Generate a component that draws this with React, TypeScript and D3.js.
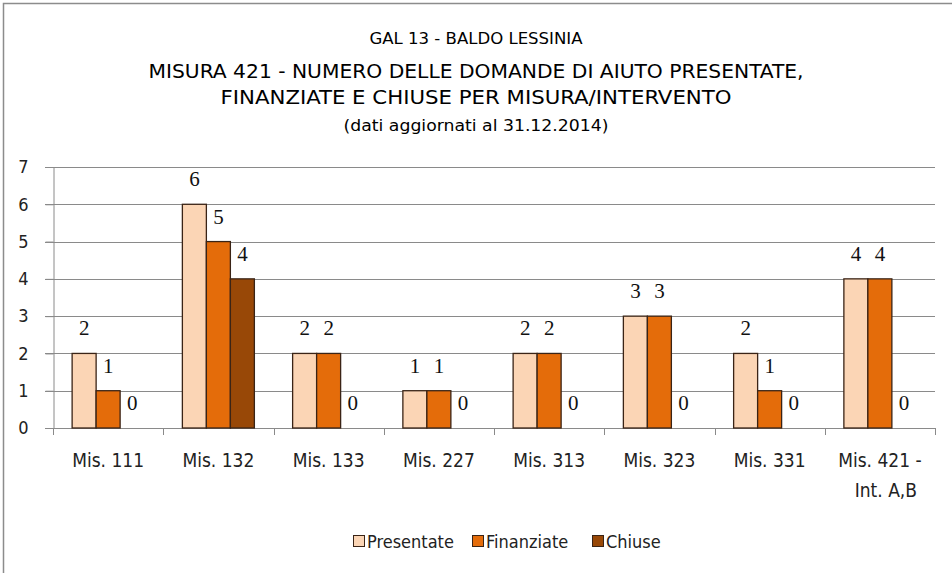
import React, { useEffect, useRef } from 'react';
import * as d3 from 'd3';

const CATEGORIES = ['Mis. 111', 'Mis. 132', 'Mis. 133', 'Mis. 227', 'Mis. 313', 'Mis. 323', 'Mis. 331', 'Mis. 421 -\nInt. A,B'];
const SERIES = ['Presentate', 'Finanziate', 'Chiuse'];
const PRESENTATE = [2, 6, 2, 1, 2, 3, 2, 4];
const FINANZIATE = [1, 5, 2, 1, 2, 3, 1, 4];
const CHIUSE = [0, 4, 0, 0, 0, 0, 0, 0];
const Y_TICKS = [0, 1, 2, 3, 4, 5, 6, 7];
const COLORS = ['#FBD5B5', '#E46C0A', '#984807'];

const TITLE_LINES = [
  'GAL 13 - BALDO LESSINIA',
  'MISURA 421  -  NUMERO DELLE DOMANDE DI AIUTO PRESENTATE,',
  'FINANZIATE E CHIUSE PER MISURA/INTERVENTO',
  '(dati aggiornati al 31.12.2014)',
];

const SANS = '"Liberation Sans Narrow", "DejaVu Sans Condensed", "Open Sans", sans-serif';
const SERIF = '"Liberation Serif", "DejaVu Serif", serif';

export default function App() {
  const svgRef = useRef<SVGSVGElement | null>(null);

  useEffect(() => {
    const svgEl = svgRef.current;
    if (!svgEl) return;
    const width = 952;
    const height = 573;
    const svg = d3.select(svgEl);
    svg.selectAll('*').remove();

    svg.append('rect').attr('width', width).attr('height', height).attr('fill', '#fff');
    // outer frame (right/bottom edges fall outside the picture)
    svg
      .append('rect')
      .attr('x', 3.5)
      .attr('y', 3.5)
      .attr('width', 970)
      .attr('height', 600)
      .attr('fill', 'none')
      .attr('stroke', '#8c8c8c')
      .attr('stroke-width', 1.5);

    // Titles
    const titleY = [44, 78, 104, 131];
    const titleSize = [16, 20, 20, 15.5];
    const titleLen = [213, 655, 511, 265];
    svg
      .append('g')
      .selectAll('text')
      .data(TITLE_LINES)
      .enter()
      .append('text')
      .attr('x', 476)
      .attr('y', (_, i) => titleY[i])
      .attr('text-anchor', 'middle')
      .attr('font-family', SANS)
      .attr('font-size', (_, i) => titleSize[i])
      .attr('textLength', (_, i) => titleLen[i])
      .attr('lengthAdjust', 'spacingAndGlyphs')
      .attr('fill', '#000')
      .text(d => d);

    const margin = { left: 53, right: 935, top: 167, bottom: 428 };
    const x0 = d3.scaleBand<string>().domain(CATEGORIES).range([margin.left, margin.right]);
    const groupW = 72;
    const x1 = d3.scaleBand<string>().domain(SERIES).range([0, groupW]);
    const y = d3.scaleLinear().domain([0, 7]).range([margin.bottom, margin.top]);

    // Gridlines
    svg
      .append('g')
      .selectAll('line')
      .data(Y_TICKS)
      .enter()
      .append('line')
      .attr('x1', margin.left - 8)
      .attr('x2', margin.right)
      .attr('y1', d => Math.round(y(d)) + 0.5)
      .attr('y2', d => Math.round(y(d)) + 0.5)
      .attr('stroke', '#8a8a8a')
      .attr('stroke-width', 1);

    // Y axis
    const yAxis = svg
      .append('g')
      .attr('transform', `translate(${margin.left + 0.5},0)`)
      .call(d3.axisLeft(y).tickValues(Y_TICKS).tickFormat(d3.format('d')).tickSize(8).tickPadding(17));
    yAxis.select('.domain').attr('stroke', '#8a8a8a');
    yAxis.selectAll('.tick line').attr('stroke', '#8a8a8a');
    yAxis
      .selectAll('.tick text')
      .attr('font-family', SANS)
      .attr('font-size', 18)
      .attr('fill', '#222');

    // X axis ticks at category boundaries
    const bounds = CATEGORIES.map(c => x0(c) as number).concat([margin.right]);
    svg
      .append('g')
      .selectAll('line')
      .data(bounds)
      .enter()
      .append('line')
      .attr('x1', d => Math.round(d) + 0.5)
      .attr('x2', d => Math.round(d) + 0.5)
      .attr('y1', margin.bottom)
      .attr('y2', margin.bottom + 7)
      .attr('stroke', '#8a8a8a');

    // X labels
    const xLab = svg.append('g');
    CATEGORIES.forEach(c => {
      const cx = (x0(c) as number) + x0.bandwidth() / 2;
      c.split('\n').forEach((line, li) => {
        xLab
          .append('text')
          .attr('x', cx + li * 6)
          .attr('y', 467 + li * 30)
          .attr('text-anchor', 'middle')
          .attr('font-family', SANS)
          .attr('font-size', 19)
          .attr('fill', '#222')
          .text(line);
      });
    });

    // Bars
    const values = [PRESENTATE, FINANZIATE, CHIUSE];
    const rows = CATEGORIES.map((c, i) => ({ c, vals: SERIES.map((s, j) => ({ s, j, v: values[j][i] })) }));
    const groups = svg
      .append('g')
      .selectAll('g')
      .data(rows)
      .enter()
      .append('g')
      .attr('transform', d => `translate(${(x0(d.c) as number) + (x0.bandwidth() - groupW) / 2},0)`);

    groups
      .selectAll('rect')
      .data(d => d.vals.filter(v => v.v > 0))
      .enter()
      .append('rect')
      .attr('x', d => x1(d.s) as number)
      .attr('y', d => y(d.v))
      .attr('width', x1.bandwidth())
      .attr('height', d => y(0) - y(d.v))
      .attr('fill', d => COLORS[d.j])
      .attr('stroke', '#3a2416')
      .attr('stroke-width', 1.3);

    groups
      .selectAll('text')
      .data(d => d.vals)
      .enter()
      .append('text')
      .attr('x', d => (x1(d.s) as number) + x1.bandwidth() / 2)
      .attr('y', d => y(d.v) - 18)
      .attr('text-anchor', 'middle')
      .attr('font-family', SERIF)
      .attr('font-size', 21)
      .attr('fill', '#111')
      .text(d => d.v);

    // Legend
    const legendX = [353, 472, 592];
    const legend = svg.append('g');
    SERIES.forEach((s, i) => {
      legend
        .append('rect')
        .attr('x', legendX[i] + 0.5)
        .attr('y', 535.5)
        .attr('width', 11)
        .attr('height', 11)
        .attr('fill', COLORS[i])
        .attr('stroke', '#3a2416')
        .attr('stroke-width', 1);
      legend
        .append('text')
        .attr('x', legendX[i] + 14)
        .attr('y', 548)
        .attr('font-family', SANS)
        .attr('font-size', 18)
        .attr('fill', '#222')
        .text(s);
    });
  }, []);

  return (
    <svg
      ref={svgRef}
      width={952}
      height={573}
      style={{ position: 'absolute', left: 0, top: 0, display: 'block' }}
    />
  );
}
